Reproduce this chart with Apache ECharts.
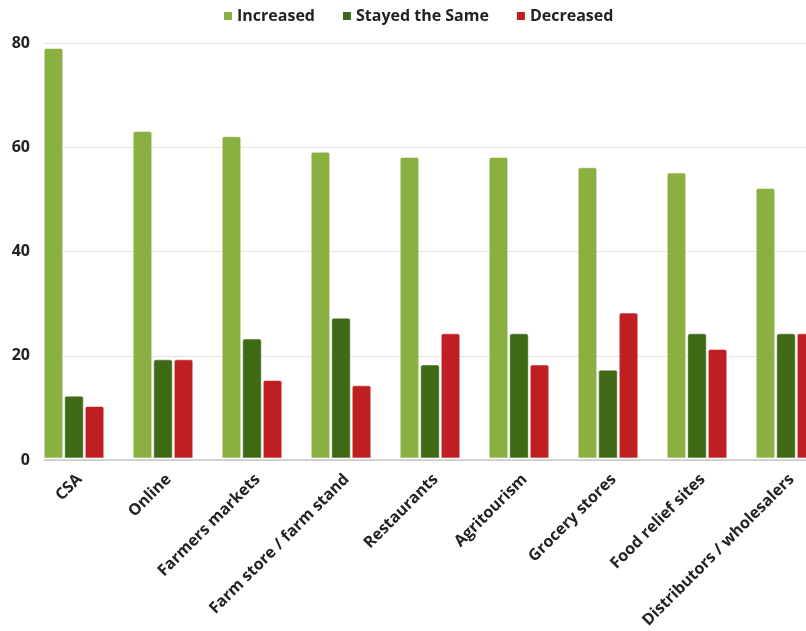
<!DOCTYPE html>
<html>
<head>
<meta charset="utf-8">
<script src="https://cdn.jsdelivr.net/npm/echarts@6/dist/echarts.min.js"></script>
<style>
  html, body { margin: 0; padding: 0; background: #fff; overflow: hidden; width: 806px; height: 631px; }
  /* the chart runs past the right edge of the page and is clipped there */
  #chart { width: 860px; height: 631px; }
</style>
</head>
<body>
<div id="chart"></div>
<script>
// Sales channels and share of respondents (%) reporting each change
const categories = [
  'CSA', 'Online', 'Farmers markets', 'Farm store / farm stand', 'Restaurants',
  'Agritourism', 'Grocery stores', 'Food relief sites', 'Distributors / wholesalers'
];
const increased = [79, 63, 62, 59, 58, 58, 56, 55, 52];
const stayedSame = [12, 19, 23, 27, 18, 24, 17, 24, 24];
const decreased = [10, 19, 15, 14, 24, 18, 28, 21, 24];
const seriesNames = ['Increased', 'Stayed the Same', 'Decreased'];
const yMin = 0, yMax = 80, yStep = 20;

const FONT = '"Open Sans", "Noto Sans", sans-serif';
const colors = ['#8bb042', '#3e6a15', '#bf1f21'];

function barSeries(name, data, color) {
  return {
    name: name,
    type: 'bar',
    xAxisIndex: 0,
    yAxisIndex: 0,
    data: data,
    barWidth: 19,
    barGap: '8%',
    itemStyle: { color: color, borderRadius: [2, 2, 0, 0], borderColor: '#ffffff', borderWidth: 0.5 },
    emphasis: { disabled: true }
  };
}

const chart = echarts.init(document.getElementById('chart'), null, { renderer: 'canvas' });
chart.setOption({
  animation: false,
  color: colors,
  textStyle: { fontFamily: FONT },
  legend: {
    data: seriesNames,
    left: 219,
    top: 3,
    icon: 'rect',
    itemWidth: 8,
    itemHeight: 8,
    itemGap: 28,
    itemStyle: { borderWidth: 0 },
    textStyle: { fontFamily: FONT, fontWeight: 'bold', fontSize: 16, color: '#222' }
  },
  grid: [
    // bar area: nine category bands of equal width
    { left: 29.5, top: 43, bottom: 171, width: 801 },
    // frame: gridlines, y labels and baseline
    { left: 44, right: 0, top: 43, bottom: 171 }
  ],
  xAxis: [
    {
      type: 'category',
      gridIndex: 0,
      data: categories,
      axisLine: { show: false },
      axisTick: { show: false },
      axisLabel: {
        interval: 0,
        rotate: 45,
        margin: 13,
        verticalAlign: 'top',
        fontFamily: FONT,
        fontWeight: 'bold',
        fontSize: 16,
        color: '#222'
      }
    },
    {
      type: 'category',
      gridIndex: 1,
      data: [''],
      axisLine: { show: true, lineStyle: { color: '#c8c8c8', width: 1.5 } },
      axisTick: { show: false },
      axisLabel: { show: false }
    }
  ],
  yAxis: [
    {
      type: 'value',
      gridIndex: 0,
      min: yMin, max: yMax, interval: yStep,
      show: false,
      splitLine: { show: false }
    },
    {
      type: 'value',
      gridIndex: 1,
      min: yMin, max: yMax, interval: yStep,
      axisLine: { show: false },
      axisTick: { show: false },
      splitLine: { lineStyle: { color: '#e2e2e2', width: 1 } },
      axisLabel: {
        margin: 14,
        fontFamily: FONT,
        fontWeight: 'bold',
        fontSize: 16,
        color: '#222'
      }
    }
  ],
  series: [
    barSeries(seriesNames[0], increased, colors[0]),
    barSeries(seriesNames[1], stayedSame, colors[1]),
    barSeries(seriesNames[2], decreased, colors[2])
  ]
});
</script>
</body>
</html>
